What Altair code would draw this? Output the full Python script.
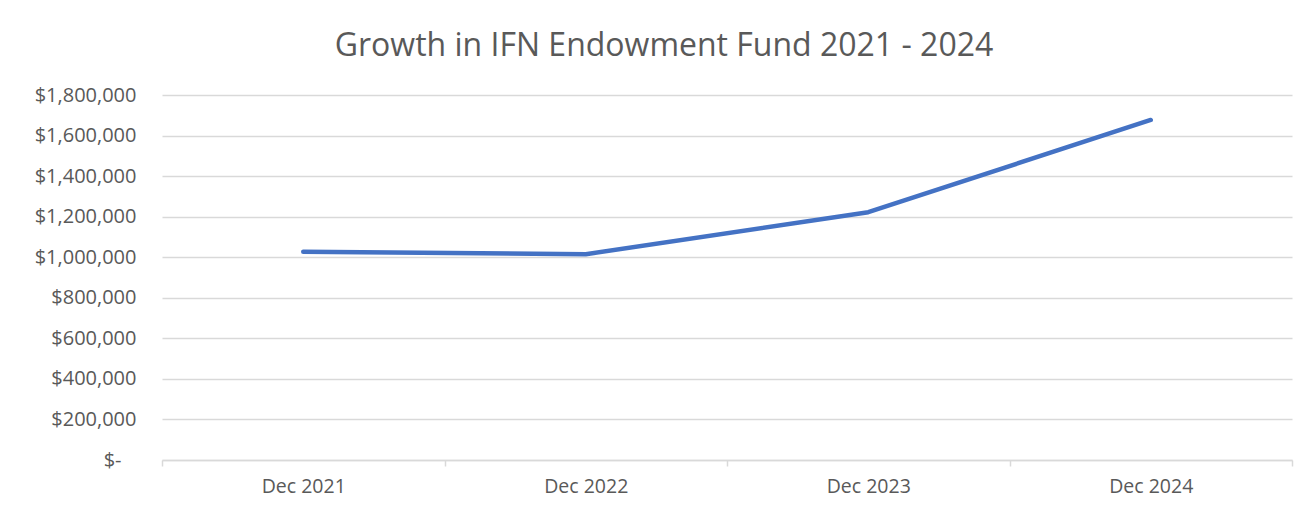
import altair as alt
import pandas as pd

periods = ["Dec 2021", "Dec 2022", "Dec 2023", "Dec 2024"]
values = [1027000, 1015000, 1222000, 1677000]
y_ticks = [0, 200000, 400000, 600000, 800000, 1000000, 1200000, 1400000, 1600000, 1800000]

df = pd.DataFrame({"period": periods, "value": values})

FONT = "Open Sans"
GREY = "#595959"

chart = alt.Chart(df).mark_line(
    color="#4472C4", strokeWidth=4.5, strokeCap="round", strokeJoin="round"
).encode(
    x=alt.X("period:N", sort=periods, title=None,
            scale=alt.Scale(paddingInner=0, paddingOuter=0),
            axis=alt.Axis(labelAngle=0, tickBand="extent", domainColor="#d9d9d9",
                          domainWidth=1.5, tickColor="#d9d9d9", tickWidth=1.5, tickSize=6,
                          labelPadding=11, labelFont=FONT, labelFontSize=19.5,
                          labelColor=GREY, grid=False)),
    y=alt.Y("value:Q", title=None,
            scale=alt.Scale(domain=[0, 1800000], nice=False),
            axis=alt.Axis(values=y_ticks, domain=False, ticks=False, labelPadding=26,
                          gridColor="#d9d9d9", gridWidth=1.5,
                          labelFont=FONT, labelFontSize=20, labelColor=GREY,
                          labelExpr="datum.value == 0 ? '$-' + '\\u2800' : format(datum.value, '$,')")),
).properties(
    width=1130, height=365,
    title=alt.TitleParams("Growth in IFN Endowment Fund 2021 - 2024", font=FONT,
                          fontSize=32, fontWeight="normal", color=GREY,
                          anchor="middle", dx=-63, offset=22),
    padding={"left": 154, "top": 87, "right": 6, "bottom": 41},
    autosize=alt.AutoSizeParams(type="none"),
    background="white",
).configure_view(stroke=None)

chart.save("out.html", embed_options={"renderer": "svg", "actions": False})
